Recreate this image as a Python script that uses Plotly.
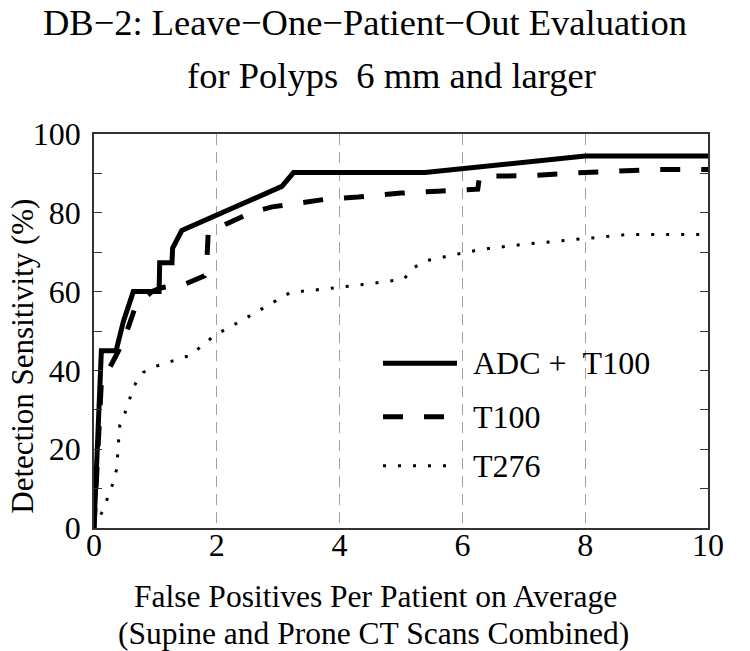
import plotly.graph_objects as go

# ---------------- data ----------------
adc_x = [0, 0.12, 0.36, 0.48, 0.64, 1.06, 1.07, 1.27, 1.28, 1.43, 3.06, 3.25, 5.39, 8.0, 10.0]
adc_y = [0, 45, 45, 52.5, 60, 60, 67.3, 67.3, 71, 75.5, 86.7, 90.2, 90.2, 94.4, 94.4]

t100_x = [0, 0.05, 0.12, 0.3, 0.4, 0.56, 0.67, 0.94, 1.1, 1.5, 1.8, 1.83, 1.86, 2.2, 2.55,
          2.9, 3.3, 3.8, 4.3, 5.0, 5.6, 6.25, 6.28, 6.4, 7.1, 7.8, 8.5, 9.2, 10.0]
t100_y = [0, 15, 37, 42, 45, 51, 56, 60, 61, 62, 64, 65, 75, 77.5, 80,
          81.5, 82.5, 83.5, 84, 85, 85.5, 86, 89.3, 89.3, 89.4, 90.1, 90.7, 91, 91]

t276_x = [0, 0.15, 0.3, 0.37, 0.4, 0.42, 0.5, 0.65, 0.8, 1.0, 1.6, 1.78, 2.0, 2.5, 3.2,
          3.6, 4.5, 5.05, 5.2, 5.4, 5.85, 6.3, 7.0, 8.0, 8.7, 10.0]
t276_y = [0, 4.6, 11, 15, 22, 26, 29, 36, 39.5, 41, 44, 46.7, 49.2, 53.5, 59.8,
          60.4, 62, 63.2, 66, 67.8, 69.3, 70.7, 72, 73.4, 74.5, 74.5]

series_names = ["ADC +\u00a0\u00a0T100", "T100", "T276"]
x_ticks = [0, 2, 4, 6, 8, 10]
y_ticks = [0, 10, 20, 30, 40, 50, 60, 70, 80, 90, 100]
y_ticktext = ["0", "", "20", "", "40", "", "60", "", "80", "", "100"]

title_line1 = "DB\u22122: Leave\u2212One\u2212Patient\u2212Out Evaluation"
title_line2 = "for Polyps\u00a0\u00a06 mm and larger"
x_title1 = "False Positives Per Patient on Average"
x_title2 = "(Supine and Prone CT Scans Combined)"
y_title = "Detection Sensitivity (%)"

FONT = "Liberation Serif, Times New Roman, serif"
dashes = ["solid", "20px,21px", "3px,12px"]
widths = [5, 5, 3]

fig = go.Figure()
for xs, ys, name, d, w in zip([adc_x, t100_x, t276_x], [adc_y, t100_y, t276_y],
                              series_names, dashes, widths):
    fig.add_trace(go.Scatter(x=xs, y=ys, mode="lines", name=name,
                             line=dict(color="black", width=w, dash=d),
                             showlegend=False))

# manual legend (long line samples as in the reference)
leg_rows = [0.418, 0.2825, 0.158]
for yy, name, d, w in zip(leg_rows, series_names, dashes, widths):
    fig.add_shape(type="line", xref="paper", yref="paper", x0=0.4707, x1=0.5912,
                  y0=yy, y1=yy, line=dict(color="black", width=w, dash=d))
    fig.add_annotation(xref="paper", yref="paper", x=0.614, y=yy, text=name,
                       showarrow=False, xanchor="left", yanchor="middle",
                       font=dict(family=FONT, size=32, color="black"))

# titles
fig.add_annotation(xref="paper", yref="paper", x=0.4414, y=1.283, text=title_line1,
                   showarrow=False, xanchor="center", yanchor="middle",
                   font=dict(family=FONT, size=36.5, color="black"))
fig.add_annotation(xref="paper", yref="paper", x=0.484, y=1.148, text=title_line2,
                   showarrow=False, xanchor="center", yanchor="middle",
                   font=dict(family=FONT, size=36.5, color="black"))
fig.add_annotation(xref="paper", yref="paper", x=0.458, y=-0.175, text=x_title1,
                   showarrow=False, xanchor="center", yanchor="middle",
                   font=dict(family=FONT, size=31.5, color="black"))
fig.add_annotation(xref="paper", yref="paper", x=0.455, y=-0.268, text=x_title2,
                   showarrow=False, xanchor="center", yanchor="middle",
                   font=dict(family=FONT, size=31.5, color="black"))
fig.add_annotation(xref="paper", yref="paper", x=-0.1165, y=0.436, text=y_title,
                   showarrow=False, xanchor="center", yanchor="middle", textangle=-90,
                   font=dict(family=FONT, size=31, color="black"))

fig.update_layout(
    width=750, height=651,
    margin=dict(l=94, r=42, t=134, b=123),
    paper_bgcolor="white", plot_bgcolor="white",
    font=dict(family=FONT, size=32, color="black"),
    xaxis=dict(range=[0, 10], tickvals=x_ticks, ticks="", showline=True, mirror=True,
               linecolor="#333", linewidth=1.5, showgrid=True, gridcolor="#a0a0a0",
               griddash="11px,7px", gridwidth=1, zeroline=False,
               ticklabelstandoff=-12,
               tickfont=dict(family=FONT, size=32, color="black")),
    yaxis=dict(range=[0, 100], tickvals=y_ticks, ticktext=y_ticktext, ticks="inside",
               ticklen=8, tickcolor="#333", tickwidth=1.2, showline=True, mirror="ticks",
               linecolor="#333", linewidth=1.5, showgrid=False, zeroline=False,
               ticklabelstandoff=5,
               tickfont=dict(family=FONT, size=32, color="black")),
)

fig.write_html("out.html", config={"displayModeBar": False},
               post_script="document.body.style.margin='0px';")
